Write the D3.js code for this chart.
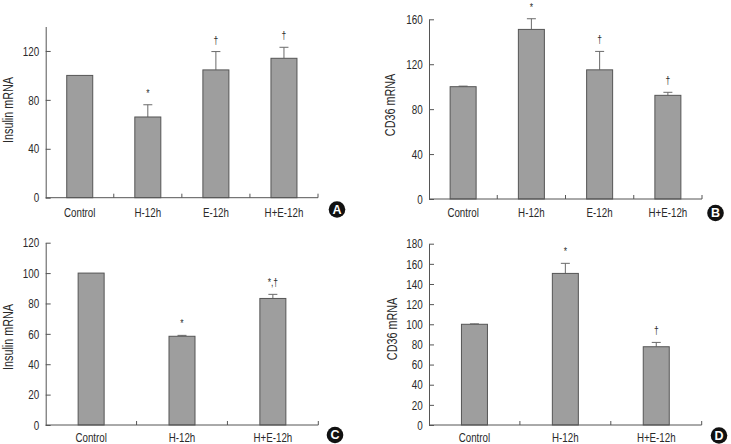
<!DOCTYPE html>
<html><head><meta charset="utf-8">
<script src="https://cdn.jsdelivr.net/npm/d3@7"></script>
<style>
body{margin:0;background:#fff}
text{font-family:"Liberation Sans",Arial,sans-serif;fill:#2a2a2a}
</style>
</head><body><svg id="c" width="731" height="444"></svg>
<script>
// ---- data ----
const catsAB = ["Control","H-12h","E-12h","H+E-12h"];
const catsCD = ["Control","H-12h","H+E-12h"];

const insulinA    = [100, 66, 104.5, 114];
const insulinAErr = [0, 10, 15, 9];
const marksA      = ["", "*", "†", "†"];
const ticksA      = [0, 40, 80, 120];

const cd36B       = [100, 151, 115, 92.3];
const cd36BErr    = [0.5, 9.5, 16.4, 2.7];
const marksB      = ["", "*", "†", "†"];
const ticksB      = [0, 40, 80, 120, 160];

const insulinC    = [100, 58.4, 83.3];
const insulinCErr = [0, 0.6, 2.7];
const marksC      = ["", "*", "*,†"];
const ticksC      = [0, 20, 40, 60, 80, 100, 120];

const cd36D       = [100, 150.5, 77.7];
const cd36DErr    = [0.4, 10, 4.3];
const marksD      = ["", "*", "†"];
const ticksD      = [0, 20, 40, 60, 80, 100, 120, 140, 160, 180];

// ---- panels ----
const panels = [
  {label:"A", cats:catsAB, vals:insulinA, errs:insulinAErr, marks:marksA, ticks:ticksA, ymax:140,
   yTitle:"Insulin mRNA", left:45.7, right:318, top:26.5, bottom:197.7, titleX:12.5, titleY:110, labY:216.5, circ:[337,209.5]},
  {label:"B", cats:catsAB, vals:cd36B, errs:cd36BErr, marks:marksB, ticks:ticksB, ymax:160,
   yTitle:"CD36 mRNA", left:429, right:702, top:19.3, bottom:199, titleX:395, titleY:105, labY:217, circ:[715.5,213]},
  {label:"C", cats:catsCD, vals:insulinC, errs:insulinCErr, marks:marksC, ticks:ticksC, ymax:120,
   yTitle:"Insulin mRNA", left:45.7, right:318.3, top:242.7, bottom:425, titleX:12.7, titleY:337, labY:442.3, circ:[335,435]},
  {label:"D", cats:catsCD, vals:cd36D, errs:cd36DErr, marks:marksD, ticks:ticksD, ymax:180,
   yTitle:"CD36 mRNA", left:429, right:701.7, top:243.7, bottom:425, titleX:397, titleY:329, labY:442.3, circ:[719,435.5]}
];

const svg = d3.select("#c");
const axisCol = "#555";

function narrowText(g, x, y, str, size, sx, rot) {
  return g.append("text")
    .attr("transform", `translate(${x},${y})${rot ? " rotate(-90)" : ""} scale(${sx},1)`)
    .attr("text-anchor","middle").attr("font-size", size + "px").text(str);
}

panels.forEach(p => {
  const g = svg.append("g");
  const x = d3.scaleBand().domain(p.cats).range([p.left, p.right]).padding(0);
  const y = d3.scaleLinear().domain([0, p.ymax]).range([p.bottom, p.top]);
  const bw = 26;
  const data = p.cats.map((c,i)=>({c, v:p.vals[i], e:p.errs[i], m:p.marks[i]}));

  // error bars (upward only)
  const eb = g.append("g").attr("stroke","#6a6a6a").attr("stroke-width",1);
  data.filter(d=>d.e>0).forEach(d=>{
    const cx = x(d.c) + x.bandwidth()/2;
    eb.append("line").attr("x1",cx).attr("x2",cx).attr("y1",y(d.v)).attr("y2",y(d.v+d.e));
    eb.append("line").attr("x1",cx-4.5).attr("x2",cx+4.5).attr("y1",y(d.v+d.e)).attr("y2",y(d.v+d.e));
  });

  // bars
  g.append("g").selectAll("rect").data(data).join("rect")
    .attr("x", d=>x(d.c)+x.bandwidth()/2-bw/2)
    .attr("width", bw)
    .attr("y", d=>y(d.v))
    .attr("height", d=>y(0)-y(d.v))
    .attr("fill","#9e9e9e").attr("stroke","#555").attr("stroke-width",1);

  // significance marks
  data.filter(d=>d.m).forEach(d=>{
    narrowText(g, x(d.c)+x.bandwidth()/2, y(d.v+d.e)-8, d.m, 10, 0.85);
  });

  // y axis
  const ya = g.append("g").attr("transform",`translate(${p.left},0)`)
    .call(d3.axisLeft(y).tickValues(p.ticks).tickSizeInner(-5).tickSizeOuter(0).tickPadding(8.4).tickFormat(d3.format("d")));
  ya.select(".domain").attr("stroke",axisCol);
  ya.selectAll(".tick line").attr("stroke",axisCol);
  ya.selectAll(".tick text").attr("font-size","13px").attr("fill","#2a2a2a")
    .attr("font-family",null).attr("transform","scale(0.76,1)");

  // x axis line + boundary ticks (pointing up)
  g.append("line").attr("x1",p.left).attr("x2",p.right).attr("y1",p.bottom).attr("y2",p.bottom).attr("stroke",axisCol);
  const bounds = p.cats.slice(1).map(c=>x(c)).concat([x.range()[1]]);
  g.append("g").selectAll("line").data(bounds).join("line")
    .attr("x1",d=>d).attr("x2",d=>d).attr("y1",p.bottom).attr("y2",p.bottom-4).attr("stroke",axisCol);

  // x labels
  p.cats.forEach(c => narrowText(g, x(c)+x.bandwidth()/2, p.labY, c, 13, 0.75));

  // y title
  narrowText(g, p.titleX, p.titleY, p.yTitle, 14, 0.77, true);

  // panel label
  g.append("circle").attr("cx",p.circ[0]).attr("cy",p.circ[1]).attr("r",8.3).attr("fill","#111");
  g.append("text").attr("x",p.circ[0]).attr("y",p.circ[1]+4.4).attr("text-anchor","middle")
    .attr("font-size","12.5px").attr("font-weight","bold").style("fill","#fff").text(p.label);
});
</script>
</body></html>
